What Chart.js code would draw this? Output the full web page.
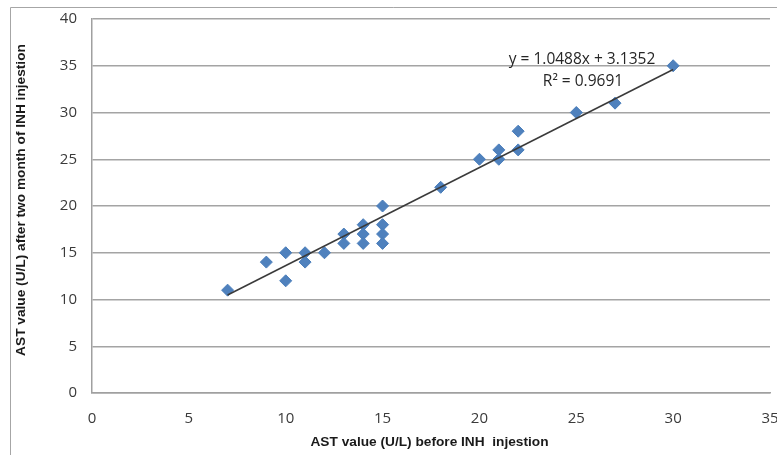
<!DOCTYPE html>
<html><head><meta charset="utf-8">
<script src="https://cdn.jsdelivr.net/npm/chart.js@4.4.0/dist/chart.umd.min.js"></script>
<style>html,body{margin:0;padding:0;background:#fff;}canvas{display:block;}</style>
</head><body>
<canvas id="c" width="777" height="455"></canvas>
<script>
// ---- data ----
const astBefore = [7, 9, 10, 10, 11, 11, 12, 13, 13, 14, 14, 14, 15, 15, 15, 15, 18, 20, 21, 21, 22, 22, 25, 27, 30];
const astAfter  = [11, 14, 15, 12, 15, 14, 15, 17, 16, 18, 17, 16, 20, 18, 17, 16, 22, 25, 26, 25, 28, 26, 30, 31, 35];
const xTickValues = [0, 5, 10, 15, 20, 25, 30, 35];
const yTickValues = [0, 5, 10, 15, 20, 25, 30, 35, 40];
const trendCoef = [1.0488, 3.1352];   // slope, intercept
const equationLines = ['y = 1.0488x + 3.1352', 'R\u00B2 = 0.9691'];
const xTitle = 'AST value (U/L) before INH  injestion';
const yTitle = 'AST value (U/L) after two month of INH injestion';

const points = astBefore.map((x, i) => ({x: x, y: astAfter[i]}));
const xMin = Math.min(...astBefore), xMax = Math.max(...astBefore);
const trendPts = [xMin, xMax].map(x => ({x: x, y: trendCoef[0] * x + trendCoef[1]}));

const TICK_FONT = {family: "'Open Sans', 'Liberation Sans', sans-serif", size: 15};
const TITLE_FONT = "bold 13.7px 'Liberation Sans', sans-serif";

const decor = {
  id: 'decor',
  beforeDraw(chart) {
    const ctx = chart.ctx;
    ctx.save();
    ctx.fillStyle = '#fff';
    ctx.fillRect(0, 0, chart.width, chart.height);
    ctx.strokeStyle = '#a6a6a6';
    ctx.lineWidth = 1;
    ctx.beginPath();
    ctx.moveTo(10.5, chart.height);
    ctx.lineTo(10.5, 7.5);
    ctx.lineTo(chart.width, 7.5);
    ctx.stroke();
    ctx.restore();
  },
  afterDraw(chart) {
    const ctx = chart.ctx;
    const ca = chart.chartArea;
    ctx.save();
    ctx.fillStyle = '#1a1a1a';
    ctx.font = TITLE_FONT;
    ctx.textAlign = 'center';
    ctx.textBaseline = 'middle';
    ctx.fillText(xTitle, (ca.left + ca.right) / 2 - 1.5, 442);
    ctx.translate(21, 200);
    ctx.rotate(-Math.PI / 2);
    ctx.fillText(yTitle, 0, 0);
    ctx.restore();
    ctx.save();
    ctx.fillStyle = '#262626';
    ctx.font = "15.5px 'Open Sans', 'Liberation Sans', sans-serif";
    ctx.textAlign = 'center';
    ctx.textBaseline = 'middle';
    ctx.fillText(equationLines[0], 582, 60);
    ctx.fillText(equationLines[1], 583, 82);
    ctx.restore();
  }
};

new Chart(document.getElementById('c'), {
  type: 'scatter',
  data: {
    datasets: [
      {
        type: 'line',
        data: trendPts,
        borderColor: '#3a3a3a',
        borderWidth: 1.5,
        pointRadius: 0,
        fill: false,
        order: 0
      },
      {
        data: points,
        pointStyle: 'rectRot',
        pointRadius: 6,
        pointBackgroundColor: '#4f81bd',
        pointBorderColor: '#4a7ebb',
        pointBorderWidth: 1,
        order: 1
      }
    ]
  },
  options: {
    responsive: false,
    animation: false,
    events: [],
    layout: {padding: {left: 0, top: 19, right: 7, bottom: 0}},
    plugins: {legend: {display: false}, tooltip: {enabled: false}},
    scales: {
      x: {
        type: 'linear',
        min: 0, max: 35,
        afterBuildTicks: s => { s.ticks = xTickValues.map(v => ({value: v})); },
        afterFit: s => { s.height = 62; s.paddingLeft = 0; s.paddingRight = 0; },
        grid: {display: false, drawTicks: false},
        border: {display: true, color: '#a0a0a0', width: 1.5},
        ticks: {font: TICK_FONT, color: '#3a3a3a', padding: 17, maxRotation: 0, autoSkip: false}
      },
      y: {
        type: 'linear',
        min: 0, max: 40,
        afterBuildTicks: s => { s.ticks = yTickValues.map(v => ({value: v})); },
        afterFit: s => { s.width = 92; s.paddingTop = 0; s.paddingBottom = 0; },
        grid: {color: '#a4a4a4', lineWidth: 1.5, drawTicks: false},
        border: {display: true, color: '#a0a0a0', width: 1.5},
        ticks: {font: TICK_FONT, color: '#3a3a3a', padding: 15, autoSkip: false}
      }
    }
  },
  plugins: [decor]
});
</script>
</body></html>
